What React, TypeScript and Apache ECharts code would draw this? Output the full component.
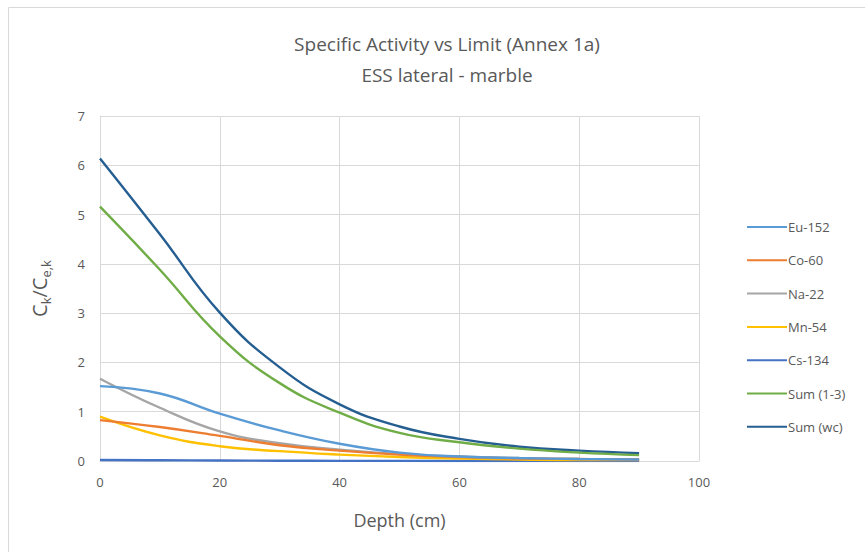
import React, { useEffect, useRef } from "react";
import * as echarts from "echarts";

const depths = [0, 10, 20, 30, 40, 50, 60, 70, 80, 90];
const eu152 = [1.52, 1.37, 0.96, 0.62, 0.35, 0.17, 0.09, 0.06, 0.04, 0.03];
const co60 = [0.83, 0.69, 0.51, 0.32, 0.21, 0.13, 0.08, 0.05, 0.04, 0.03];
const na22 = [1.67, 1.08, 0.6, 0.36, 0.23, 0.14, 0.09, 0.06, 0.04, 0.03];
const mn54 = [0.9, 0.52, 0.3, 0.2, 0.13, 0.08, 0.05, 0.03, 0.02, 0.02];
const cs134 = [0.02, 0.015, 0.01, 0.005, 0.003, 0.002, 0.001, 0.001, 0.001, 0.001];
const sum13 = [5.16, 3.88, 2.53, 1.58, 0.98, 0.57, 0.38, 0.25, 0.17, 0.12];
const sumWc = [6.14, 4.6, 3.01, 1.9, 1.15, 0.7, 0.45, 0.29, 0.21, 0.16];

const seriesNames = ["Eu-152", "Co-60", "Na-22", "Mn-54", "Cs-134", "Sum (1-3)", "Sum (wc)"];
const seriesValues = [eu152, co60, na22, mn54, cs134, sum13, sumWc];
const seriesColors = ["#5B9BD5", "#ED7D31", "#A5A5A5", "#FFC000", "#4472C4", "#70AD47", "#255E91"];

export default function App() {
  const ref = useRef<HTMLDivElement>(null);
  useEffect(() => {
    if (!ref.current) return;
    const chart = echarts.init(ref.current, null, { renderer: "svg" });
    const font = "'Open Sans', sans-serif";
    chart.setOption({
      animation: false,
      backgroundColor: "#ffffff",
      textStyle: { fontFamily: font },
      title: {
        text: "Specific Activity vs Limit (Annex 1a)\nESS lateral - marble",
        left: 442,
        textAlign: "center",
        top: 23,
        textStyle: { fontSize: 19, fontWeight: "normal", color: "#595959", lineHeight: 31, fontFamily: font },
      },
      graphic: [
        {
          type: "rect",
          shape: { x: 8.5, y: 7.5, width: 900, height: 600 },
          style: { fill: "none", stroke: "#d9d9d9", lineWidth: 1 },
          silent: true,
        },
      ],
      legend: {
        orient: "vertical",
        left: 742,
        top: 213,
        itemGap: 15.3,
        itemWidth: 40,
        itemHeight: 2,
        icon: "rect",
        textStyle: { fontSize: 13, lineHeight: 18, color: "#595959", fontFamily: font, padding: [0, 0, 0, -4] },
        data: seriesNames.map((n, i) => ({
          name: n,
          itemStyle: { color: seriesColors[i] },
        })),
      },
      grid: { left: 100, right: 166, top: 116, bottom: 91 },
      xAxis: {
        type: "value",
        min: 0,
        max: 100,
        interval: 20,
        name: "Depth (cm)",
        nameLocation: "middle",
        nameGap: 50,
        nameTextStyle: { fontSize: 18, color: "#595959", fontFamily: font },
        axisLine: { show: true, lineStyle: { color: "#d9d9d9", width: 1 } },
        axisTick: { show: false },
        axisLabel: { fontSize: 13, color: "#595959", margin: 14, fontFamily: font },
        splitLine: { show: true, lineStyle: { color: "#d9d9d9", width: 1 } },
      },
      yAxis: {
        type: "value",
        min: 0,
        max: 7,
        interval: 1,
        name: "{a|C}{s|k}{a|/C}{s|e,k}",
        nameLocation: "middle",
        nameGap: 48,
        nameRotate: 90,
        nameTextStyle: {
          color: "#595959",
          fontFamily: font,
          rich: {
            a: { fontSize: 20, color: "#595959", fontFamily: font, lineHeight: 26, verticalAlign: "middle" },
            s: { fontSize: 13, color: "#595959", fontFamily: font, lineHeight: 26, verticalAlign: "bottom", padding: [10, 0, 0, 0] },
          },
        },
        axisLine: { show: true, lineStyle: { color: "#d9d9d9", width: 1 } },
        axisTick: { show: false },
        axisLabel: { fontSize: 13, color: "#595959", margin: 15, fontFamily: font },
        splitLine: { show: true, lineStyle: { color: "#d9d9d9", width: 1 } },
      },
      series: seriesNames.map((name, i) => ({
        name,
        type: "line",
        smooth: 0.45,
        showSymbol: false,
        symbol: "none",
        data: depths.map((d, j) => [d, seriesValues[i][j]]),
        lineStyle: { color: seriesColors[i], width: 2.4 },
        itemStyle: { color: seriesColors[i] },
        z: 10 - i,
      })),
    });
    return () => chart.dispose();
  }, []);
  return (
    <div
      ref={ref}
      style={{ position: "fixed", left: 0, top: 0, width: 865, height: 552 }}
    />
  );
}
